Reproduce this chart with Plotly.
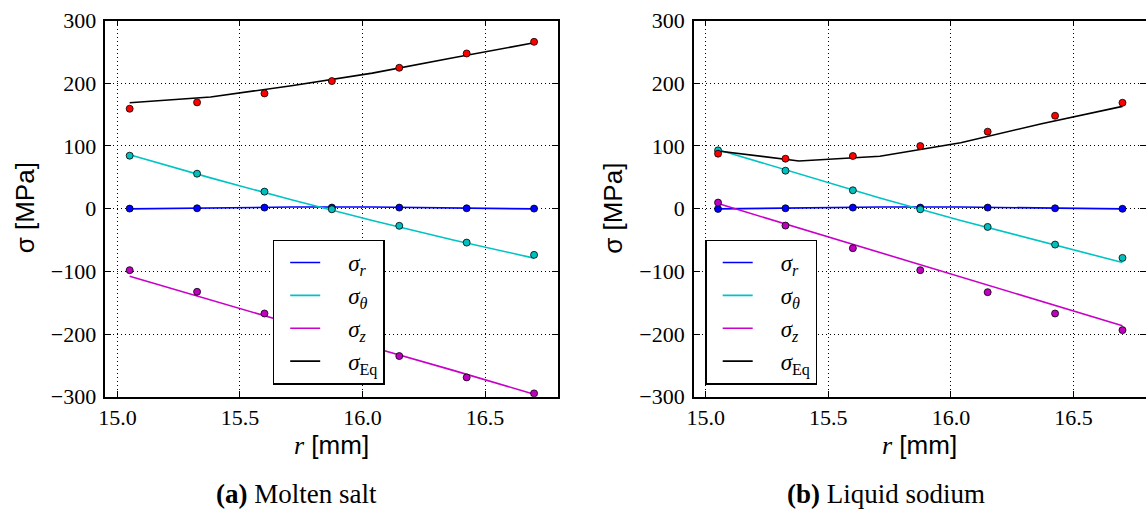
import plotly.graph_objects as go

# ---------------- data ----------------
r_nodes = [15.05, 15.38, 15.71, 16.04, 16.37, 16.70]          # analytical / line nodes
r_points = [15.05, 15.325, 15.60, 15.875, 16.15, 16.425, 16.70]  # FEM sample points

# (a) Molten salt
a_line_r = [-0.5, 1.5, 2.5, 2.5, 1.5, -0.5]
a_line_t = [86, 49, 14, -19, -50, -79]
a_line_z = [-108, -146, -183, -221, -258, -296]
a_line_eq = [168.8, 177.9, 196.0, 216.1, 240.5, 264.4]
a_pts_r = [0.0, 0.5, 1.6, 1.6, 1.6, 0.5, 0.0]
a_pts_t = [84.4, 55.7, 27.1, -1.1, -27.5, -54.2, -73.8]
a_pts_z = [-98.2, -132.7, -167.3, -201.0, -235.2, -269.2, -294.7]
a_pts_eq = [159.3, 169.4, 183.7, 203.4, 224.6, 247.4, 266.0]

# (b) Liquid sodium
b_line_r = [-0.5, 1.5, 2.5, 2.5, 1.5, -0.5]
b_line_t = [94, 55, 17, -19, -53, -86]
b_line_z = [8, -31, -70, -109, -148, -187]
b_line_eq = [91.9, 75.9, 83.4, 105.0, 135.4, 163.0]
b_pts_r = [-0.5, 0.5, 1.6, 1.6, 1.6, 0.5, -0.3]
b_pts_t = [92.9, 60.5, 29.2, -1.1, -29.2, -57.4, -78.6]
b_pts_z = [9.6, -27.1, -63.2, -98.2, -133.3, -167.3, -193.8]
b_pts_eq = [87.6, 79.6, 83.9, 99.8, 122.7, 148.1, 168.8]

pad = "\u00a0" * 4
series_names = [pad + "<i>σ</i><sub><i>r</i></sub>", pad + "<i>σ</i><sub><i>θ</i></sub>",
                pad + "<i>σ</i><sub><i>z</i></sub>", pad + "<i>σ</i><sub>Eq</sub>"]
line_colors = ["#0000FF", "#00C4C4", "#C800C8", "#000000"]
marker_colors = ["#0000FF", "#00BFBF", "#BF00BF", "#FF0000"]

x_ticks = [15.0, 15.5, 16.0, 16.5]
y_ticks = [-300, -200, -100, 0, 100, 200, 300]

panels = [
    ("x", "y", [a_line_r, a_line_t, a_line_z, a_line_eq], [a_pts_r, a_pts_t, a_pts_z, a_pts_eq], "legend"),
    ("x2", "y2", [b_line_r, b_line_t, b_line_z, b_line_eq], [b_pts_r, b_pts_t, b_pts_z, b_pts_eq], "legend2"),
]

fig = go.Figure()
for xa, ya, lines, pts, leg in panels:
    for name, col, ys in zip(series_names, line_colors, lines):
        fig.add_trace(go.Scatter(x=r_nodes, y=ys, mode="lines", name=name,
                                 line=dict(color=col, width=1.6), xaxis=xa, yaxis=ya,
                                 legend=leg, showlegend=True))
    for col, ys in zip(marker_colors, pts):
        fig.add_trace(go.Scatter(x=r_points, y=ys, mode="markers",
                                 marker=dict(color=col, size=7, line=dict(color="black", width=0.8)),
                                 xaxis=xa, yaxis=ya, showlegend=False))

W, H = 1146, 512
tickfont = dict(family="Liberation Serif", size=22, color="black")

def xaxis(domain, anchor):
    return dict(domain=domain, anchor=anchor, range=[14.951, 16.796], tickvals=x_ticks,
                tickformat=".1f", ticks="inside", ticklen=6, tickwidth=1, tickcolor="black",
                showline=True, linecolor="black", linewidth=1.5, mirror="ticks",
                showgrid=True, gridcolor="black", gridwidth=1, griddash="1px,3px",
                zeroline=False, tickfont=tickfont, automargin=False)

def yaxis(domain, anchor):
    return dict(domain=domain, anchor=anchor, range=[-300, 300], tickvals=y_ticks,
                ticks="inside", ticklen=6, tickwidth=1, tickcolor="black",
                showline=True, linecolor="black", linewidth=1.5, mirror="ticks",
                showgrid=True, gridcolor="black", gridwidth=1, griddash="1px,3px",
                zeroline=False, tickfont=tickfont, automargin=False, ticklabelstandoff=3)

ydom = [(H - 396.7) / H, (H - 20.5) / H]
legend_common = dict(font=dict(family="Liberation Serif", size=23, color="black"),
                     bordercolor="black", borderwidth=1.5, bgcolor="white",
                     xanchor="left", yanchor="top", tracegroupgap=0, indentation=11)

sans = "Liberation Sans"
serif = "Liberation Serif"
rlabel = '<span style="font-family:Liberation Serif"><i>r</i></span> [mm]'

annotations = [
    dict(text=rlabel, x=331.5 / W, y=(H - 445) / H, xref="paper", yref="paper",
         showarrow=False, xanchor="center", yanchor="middle", font=dict(family=sans, size=26, color="black")),
    dict(text=rlabel, x=919.5 / W, y=(H - 445) / H, xref="paper", yref="paper",
         showarrow=False, xanchor="center", yanchor="middle", font=dict(family=sans, size=26, color="black")),
    dict(text="σ [MPa]", x=25 / W, y=(H - 208.3) / H, xref="paper", yref="paper", textangle=-90,
         showarrow=False, xanchor="center", yanchor="middle", font=dict(family=sans, size=26, color="black")),
    dict(text="σ [MPa]", x=613.5 / W, y=(H - 208.3) / H, xref="paper", yref="paper", textangle=-90,
         showarrow=False, xanchor="center", yanchor="middle", font=dict(family=sans, size=26, color="black")),
    dict(text="<b>(a)</b> Molten salt", x=296.3 / W, y=(H - 494) / H, xref="paper", yref="paper",
         showarrow=False, xanchor="center", yanchor="middle", font=dict(family=serif, size=27, color="black")),
    dict(text="<b>(b)</b> Liquid sodium", x=885.5 / W, y=(H - 494) / H, xref="paper", yref="paper",
         showarrow=False, xanchor="center", yanchor="middle", font=dict(family=serif, size=27, color="black")),
]

fig.update_layout(
    width=W, height=H, margin=dict(l=0, r=0, t=0, b=0, autoexpand=False),
    paper_bgcolor="white", plot_bgcolor="white",
    xaxis=xaxis([105.4 / W, 557.6 / W], "y"),
    yaxis=yaxis(ydom, "x"),
    xaxis2=xaxis([693.8 / W, 1.0], "y2"),
    yaxis2=yaxis(ydom, "x2"),
    legend=dict(x=272.7 / W, y=(H - 239.5) / H, **legend_common),
    legend2=dict(x=705.2 / W, y=(H - 239.5) / H, **legend_common),
    annotations=annotations,
    showlegend=True,
    hovermode=False,
)

fig.write_html("out.html", config={"displayModeBar": False},
               post_script="document.body.style.margin='0px';document.body.style.padding='0px';")
